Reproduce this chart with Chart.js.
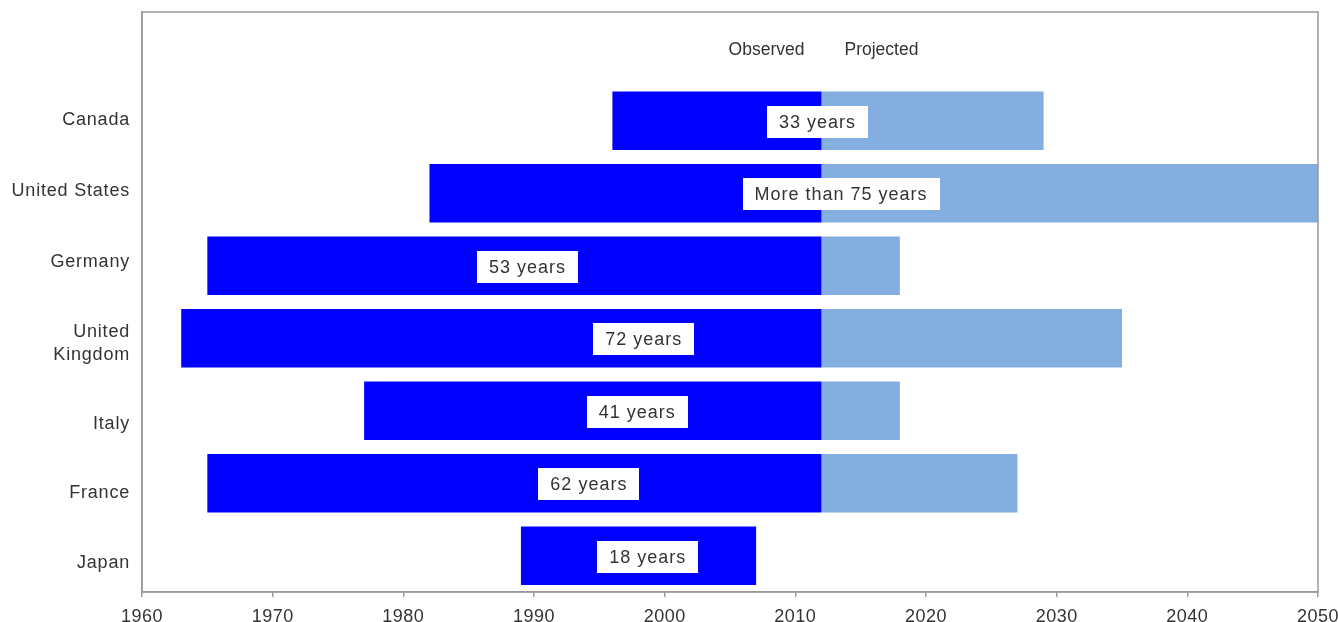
<!DOCTYPE html>
<html>
<head>
<meta charset="utf-8">
<style>
  html, body { margin: 0; padding: 0; background: #fff; }
  #wrap { width: 1338px; height: 622px; }
</style>
<script src="https://cdn.jsdelivr.net/npm/chart.js@4/dist/chart.umd.min.js"></script>
</head>
<body>
<div id="wrap"><canvas id="c" width="1338" height="622"></canvas></div>
<script>
// Rows: an empty header row (for the Observed / Projected captions), then countries
const countries = ['', 'Canada', 'United States', 'Germany', ['United', 'Kingdom'], 'Italy', 'France', 'Japan'];

// Year the period starts, year observation ends, year the projected period ends
const startYear    = [null, 1996, 1982, 1965, 1963, 1977, 1965, 1989];
const observedEnd  = [null, 2012, 2012, 2012, 2012, 2012, 2012, 2007];
const projectedEnd = [null, 2029, 2057, 2018, 2035, 2018, 2027, null];

// Year at which each duration label is centred
const labelAnchor  = [null, 2011.7, 2013.5, 1989.5, 1998.4, 1997.9, 1994.2, 1998.7];

// Axis ticks
const yearTicks = [1960, 1970, 1980, 1990, 2000, 2010, 2020, 2030, 2040, 2050];
const splitYear = 2012;

const observedBars  = startYear.map((s, i) => s === null ? null : [s, observedEnd[i]]);
const projectedBars = projectedEnd.map((e, i) => e === null ? null : [observedEnd[i], e]);

// Duration text drawn on each bar
const durationText = startYear.map((s, i) => {
  if (s === null) return null;
  const years = (projectedEnd[i] ?? observedEnd[i]) - s;
  return (i === 2 ? 'More than ' : '') + years + ' years';
});

const FONT = '"Liberation Sans", Arial, sans-serif';
const TEXT = '#333333';

// vertical nudge (px) of each country name relative to its row centre
const rowNameShift = [0, -2, -3.75, -5.25, 3.8, 11.5, 8.75, 6.25];

function spacing(chart) { chart.ctx.letterSpacing = '0.5px'; }

const overlay = {
  id: 'overlay',
  beforeInit: spacing,
  beforeLayout: spacing,
  beforeDraw: spacing,
  afterDatasetsDraw(chart) {
    const { ctx, chartArea: a, scales: { x, y } } = chart;
    ctx.save();
    // frame around the plot
    ctx.strokeStyle = '#999999';
    ctx.lineWidth = 1.5;
    ctx.strokeRect(a.left, a.top, a.right - a.left, a.bottom - a.top);

    // country names
    ctx.font = '18px ' + FONT;
    ctx.letterSpacing = '0.8px';
    ctx.fillStyle = TEXT;
    ctx.textAlign = 'right';
    ctx.textBaseline = 'alphabetic';
    countries.forEach((name, i) => {
      const lines = Array.isArray(name) ? name : [name];
      if (!lines[0]) return;
      const mid = y.getPixelForValue(i) + rowNameShift[i];
      const lh = 23.5;
      lines.forEach((ln, k) => {
        const ly = mid + (k - (lines.length - 1) / 2) * lh + 6.45;
        ctx.fillText(ln, a.left - 12, ly);
      });
    });

    // duration labels
    ctx.letterSpacing = '1px';
    ctx.textAlign = 'center';
    ctx.textBaseline = 'middle';
    durationText.forEach((t, i) => {
      if (!t) return;
      const cx = x.getPixelForValue(labelAnchor[i]);
      const cy = y.getPixelForValue(i) + 1;
      const w = ctx.measureText(t).width + 24;
      ctx.fillStyle = '#ffffff';
      ctx.fillRect(Math.round(cx - w / 2), Math.round(cy - 16), Math.round(w), 32);
      ctx.fillStyle = TEXT;
      ctx.fillText(t, cx, cy + 1);
    });

    // header captions
    ctx.letterSpacing = '0px';
    ctx.font = '17.5px ' + FONT;
    const sx = x.getPixelForValue(splitYear);
    const hy = y.getPixelForValue(0) + 2;
    ctx.textAlign = 'right';
    ctx.fillText('Observed', sx - 17, hy);
    ctx.textAlign = 'left';
    ctx.fillText('Projected', sx + 23, hy);
    ctx.restore();
  }
};

new Chart(document.getElementById('c'), {
  type: 'bar',
  data: {
    labels: countries,
    datasets: [
      {
        label: 'Observed',
        data: observedBars,
        backgroundColor: '#0000FF',
        borderWidth: 0,
        grouped: false,
        barPercentage: 0.81,
        categoryPercentage: 1,
        order: 1
      },
      {
        label: 'Projected',
        data: projectedBars,
        backgroundColor: '#84AEE0',
        borderWidth: 0,
        grouped: false,
        barPercentage: 0.81,
        categoryPercentage: 1,
        order: 2
      }
    ]
  },
  options: {
    indexAxis: 'y',
    responsive: false,
    animation: false,
    layout: { padding: { top: 12, right: 20, left: 0, bottom: 0 } },
    plugins: { legend: { display: false }, tooltip: { enabled: false } },
    scales: {
      x: {
        type: 'linear',
        min: 1960,
        max: 2050,
        afterBuildTicks(scale) { scale.ticks = yearTicks.map(v => ({ value: v })); },
        afterFit(scale) { scale.height = 30; scale.paddingLeft = 0; scale.paddingRight = 0; },
        ticks: {
          color: TEXT,
          font: { family: FONT, size: 18 },
          padding: 9,
          maxRotation: 0,
          callback: v => String(v)
        },
        grid: { display: true, drawOnChartArea: false, drawTicks: true, tickLength: 5, color: '#999999', lineWidth: 1.5 },
        border: { display: true, color: '#999999', width: 1.5 }
      },
      y: {
        type: 'category',
        afterFit(scale) { scale.width = 142; scale.paddingTop = 0; scale.paddingBottom = 0; },
        ticks: { display: false },
        grid: { display: false, drawTicks: false },
        border: { display: true, color: '#999999', width: 1.5 }
      }
    }
  },
  plugins: [overlay]
});
</script>
</body>
</html>
